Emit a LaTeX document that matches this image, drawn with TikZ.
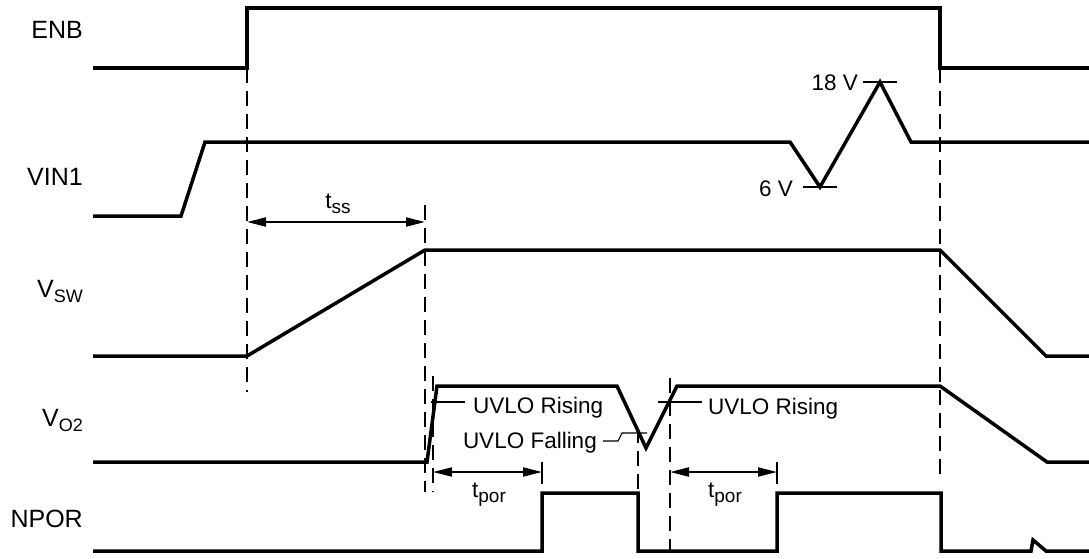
\documentclass[tikz,border=0pt]{standalone}
\usepackage{fontspec}
\setmainfont{Liberation Sans}
\usetikzlibrary{arrows.meta}
\newcommand{\lsub}[1]{\raisebox{-5pt}{\fontsize{18}{18}\selectfont #1}}
\newcommand{\asub}[1]{\raisebox{-5pt}{\fontsize{19}{19}\selectfont #1}}
\begin{document}
\begin{tikzpicture}[x=1pt,y=-1pt,
  sig/.style={line width=3.5pt, line join=miter},
  guide/.style={line width=1.4pt, dash pattern=on 15pt off 8pt},
  dim/.style={line width=2pt, {Triangle[length=19pt,width=9pt]}-{Triangle[length=19pt,width=9pt]}},
  tick/.style={line width=1.1pt},
  lab/.style={anchor=base east, inner sep=0pt, font=\fontsize{25}{25}\selectfont},
  ann/.style={inner sep=0pt, font=\fontsize{22.5}{22.5}\selectfont}]
\useasboundingbox (0,0) rectangle (1089,558);

% signal labels
\node[lab] (lenb) at (83,38) {ENB};
\node[lab] (lvin) at (83,185) {VIN1};
\node[lab] (lvsw) at (83,297) {V\lsub{SW}};
\node[lab] (lvo) at (83,426) {V\lsub{O2}};
\node[lab] (lnpor) at (83,527) {NPOR};

% guide lines
\draw[guide] (247,68) -- (247,392);
\draw[guide] (425,205) -- (425,492);
\draw[guide] (433,376) -- (433,492);
\draw[guide] (638,428) -- (638,492);
\draw[guide] (670,378) -- (670,550);
\draw[guide] (940,68) -- (940,480);

% signals
\draw[sig] (93,68) -- (247,68) -- (247,8) -- (940,8) -- (940,68) -- (1089,68);
\draw[sig] (93,216) -- (181,216) -- (205,142) -- (790,142) -- (820,187) -- (880,82) -- (911,142) -- (1089,142);
\draw[sig] (93,356) -- (247,356) -- (425,250) -- (940,250) -- (1046,356) -- (1089,356);
\draw[sig] (93,462) -- (427,462) -- (437,386) -- (617,386) -- (646,448) -- (677,386) -- (940,386) -- (1047,462) -- (1089,462);
\draw[sig] (93,551) -- (542,551) -- (542,493) -- (638,493) -- (638,551) -- (777,551) -- (777,493) -- (941,493) -- (941,551) -- (1031,551) -- (1033,540) -- (1046,551) -- (1089,551);

% VIN1 levels
\draw[tick] (863,82) -- (897,82);
\node[ann, anchor=base east] (l18) at (858,90) {18 V};
\draw[tick] (803,187) -- (837,187);
\node[ann, anchor=base east] (l6) at (793,196) {6 V};

% tss
\coordinate (ss1) at (247,222);
\coordinate (ss2) at (425,222);
\draw[dim] (ss1) -- (ss2);
\node[ann, anchor=base] (ltss) at (338,208) {t\asub{ss}};

% UVLO annotations
\draw[tick] (431,402) -- (465,402);
\node[ann, anchor=base west] (lur1) at (473,413) {UVLO Rising};
\draw[tick] (603,441) -- (618,441) -- (622,433) -- (647,433);
\node[ann, anchor=base east] (luf) at (597,448) {UVLO Falling};
\draw[tick] (658,402) -- (702,402);
\node[ann, anchor=base west] (lur2) at (708,414) {UVLO Rising};

% tpor
\coordinate (p1a) at (433,472);
\coordinate (p1b) at (542,472);
\draw[tick] (542,462) -- (542,484);
\draw[dim] (p1a) -- (p1b);
\node[ann, anchor=base] (ltp1) at (489,497) {t\asub{por}};
\coordinate (p2a) at (670,472);
\coordinate (p2b) at (777,472);
\draw[tick] (777,462) -- (777,484);
\draw[dim] (p2a) -- (p2b);
\node[ann, anchor=base] (ltp2) at (725,497) {t\asub{por}};
\end{tikzpicture}
\end{document}
